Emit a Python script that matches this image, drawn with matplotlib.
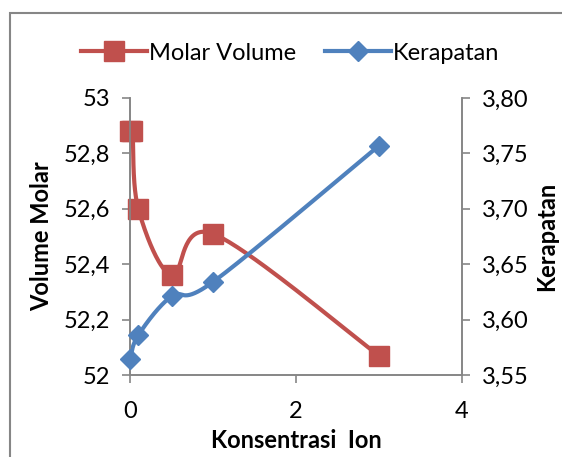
import numpy as np
import matplotlib.pyplot as plt
from matplotlib.patches import Rectangle
from matplotlib.ticker import FuncFormatter, MultipleLocator

plt.rcParams.update({
    "font.family": ["Lato", "DejaVu Sans"],
    "font.size": 17,
})

# Data
konsentrasi_mv = [0, 0.03, 0.1, 0.5, 1, 3]
molar_volume = [52.88, 52.88, 52.60, 52.36, 52.51, 52.07]

konsentrasi_k = [0, 0.1, 0.5, 1, 3]
kerapatan = [3.564, 3.586, 3.621, 3.634, 3.757]

red = "#C0504D"
blue = "#4F81BD"
grey = "#868686"


def smooth(x, y, n=40):
    # Bezier smoothing in the style of spreadsheet "smoothed lines"
    p = np.column_stack([x, y]).astype(float)
    p_ext = np.vstack([p[0], p, p[-1]])
    t = np.linspace(0, 1, n)[:, None]
    out = []
    for i in range(len(p) - 1):
        p0 = p_ext[i + 1]
        p3 = p_ext[i + 2]
        c1 = p0 + (p_ext[i + 2] - p_ext[i]) / 6
        c2 = p3 - (p_ext[i + 3] - p_ext[i + 1]) / 6
        seg = ((1 - t) ** 3) * p0 + 3 * ((1 - t) ** 2) * t * c1 \
            + 3 * (1 - t) * t ** 2 * c2 + t ** 3 * p3
        out.append(seg)
    out = np.vstack(out)
    return out[:, 0], out[:, 1]


fig = plt.figure(figsize=(5.62, 4.57), dpi=100)
fig.patches.append(Rectangle((10 / 562, -0.1), 1.2, 1 - 13 / 457 + 0.1,
                             transform=fig.transFigure, fill=False,
                             edgecolor=grey, linewidth=1.5))

ax = fig.add_axes([130 / 562, 1 - 375 / 457, 332 / 562, 277 / 457])
ax2 = ax.twinx()

lw = 3.0
sx, sy = smooth(konsentrasi_mv, molar_volume)
ax.plot(sx, sy, color=red, linewidth=lw, solid_capstyle="round", clip_on=False)
ax.plot(konsentrasi_mv, molar_volume, linestyle="none", marker="s",
        markersize=14, color=red, clip_on=False, zorder=4)

kx, ky = smooth(konsentrasi_k, kerapatan)
ax2.plot(kx, ky, color=blue, linewidth=lw, solid_capstyle="round", clip_on=False)
ax2.plot(konsentrasi_k, kerapatan, linestyle="none", marker="D",
         markersize=10.5, color=blue, clip_on=False, zorder=4)

ax.set_xlim(0, 4)
ax.set_ylim(52, 53)
ax2.set_ylim(3.55, 3.80)
ax.xaxis.set_major_locator(MultipleLocator(2))
ax.yaxis.set_major_locator(MultipleLocator(0.2))
ax2.yaxis.set_major_locator(MultipleLocator(0.05))

ax.yaxis.set_major_formatter(FuncFormatter(lambda v, p: f"{v:g}".replace(".", ",")))
ax2.yaxis.set_major_formatter(FuncFormatter(lambda v, p: f"{v:.2f}".replace(".", ",")))

for a in (ax, ax2):
    a.spines["top"].set_visible(False)
    for s in ("left", "right", "bottom"):
        a.spines[s].set_color(grey)
        a.spines[s].set_linewidth(1.2)
    a.tick_params(colors=grey, labelcolor="#000000", width=1.2, length=6)
ax.tick_params(axis="x", pad=13)
ax.tick_params(axis="y", pad=8)
ax2.tick_params(axis="y", pad=8)

ax.set_xlabel("Konsentrasi  Ion", fontweight="bold", fontsize=17, labelpad=5)
ax.set_ylabel("Volume Molar", fontweight="bold", fontsize=17, labelpad=8)
ax2.set_ylabel("Kerapatan", fontweight="bold", fontsize=17, rotation=90, labelpad=5)

h1 = plt.Line2D([], [], color=red, linewidth=lw, marker="s", markersize=14)
h2 = plt.Line2D([], [], color=blue, linewidth=lw, marker="D", markersize=10.5)
fig.legend([h1, h2], ["Molar Volume", "Kerapatan"], loc="center",
           bbox_to_anchor=(290 / 562, 1 - 53 / 457), ncol=2, frameon=False,
           handlelength=2.8, handletextpad=0.1, columnspacing=1.2, fontsize=17)

fig.savefig("out.png", dpi=100)
